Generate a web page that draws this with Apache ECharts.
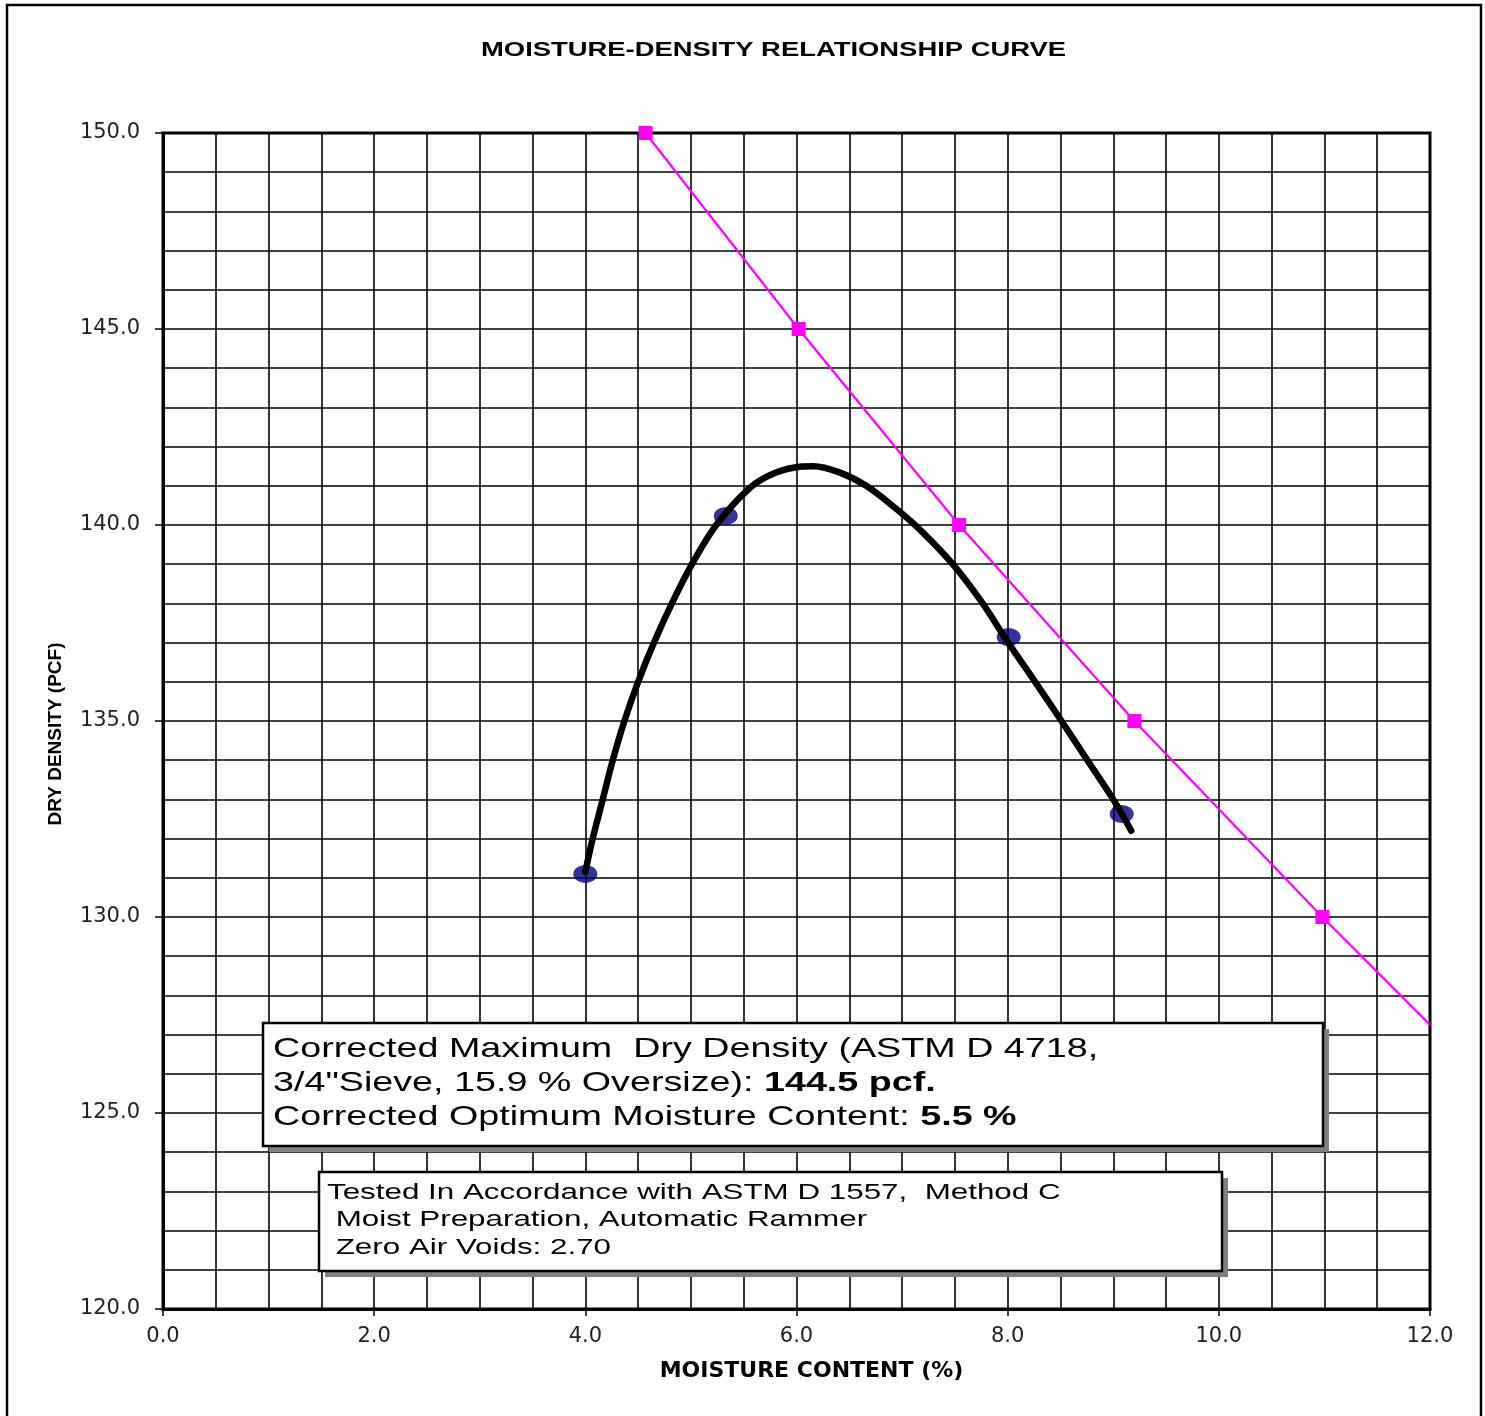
<!DOCTYPE html>
<html>
<head>
<meta charset="utf-8">
<script src="https://cdn.jsdelivr.net/npm/echarts@6/dist/echarts.min.js"></script>
<style>
html,body{margin:0;padding:0;background:#fff;}
#chart{width:1485px;height:1416px;}
</style>
</head>
<body>
<div id="chart"></div>
<script>
// ---- data ----
var xTicks = [0, 2, 4, 6, 8, 10, 12];
var yTicks = [120, 125, 130, 135, 140, 145, 150];

// zero air voids line (Gs = 2.70)
var zavMoisture = [4.57, 6.02, 7.54, 9.20, 10.98, 12.0];
var zavDensity  = [150.0, 145.0, 140.0, 135.0, 130.0, 127.25];

// measured test points
var testMoisture = [4.00, 5.33, 8.01, 9.08];
var testDensity  = [131.1, 140.23, 137.14, 132.63];

// fitted compaction curve
var curveMoisture = [4.00, 4.07, 4.165, 4.26, 4.37, 4.50, 4.65, 4.82, 5.01, 5.24, 5.56, 5.80, 6.05, 6.16, 6.40, 6.66, 6.95, 7.20, 7.48, 7.75, 8.005, 8.26, 8.51, 8.755, 9.00, 9.17];
var curveDensity  = [131.15, 132.0, 133.0, 134.0, 135.0, 136.0, 137.0, 138.0, 139.0, 140.0, 140.95, 141.33, 141.49, 141.5, 141.35, 141.0, 140.4, 139.8, 139.0, 138.05, 137.0, 136.0, 135.0, 134.0, 133.0, 132.2];

var titleText = 'MOISTURE-DENSITY RELATIONSHIP CURVE';
var xName = 'MOISTURE CONTENT (%)';
var yName = 'DRY DENSITY (PCF)';
var box1Lines = [
  'Corrected Maximum  Dry Density (ASTM D 4718,',
  '3/4"Sieve, 15.9 % Oversize): {b|144.5 pcf.}',
  'Corrected Optimum Moisture Content: {b|5.5 %}'
];
var box2Lines = [
  'Tested In Accordance with ASTM D 1557,  Method C',
  ' Moist Preparation, Automatic Rammer',
  ' Zero Air Voids: 2.70'
];

function zip(a, b) { return a.map(function (v, i) { return [v, b[i]]; }); }

var chart = echarts.init(document.getElementById('chart'));

function box(x, y, w, h, textX, textY, lines, fontSize, lineHeight, scaleX) {
  return {
    type: 'group',
    children: [
      { type: 'rect', shape: { x: x + 6, y: y + 6, width: w, height: h }, style: { fill: '#808080' }, z: 10 },
      { type: 'rect', shape: { x: x, y: y, width: w, height: h }, style: { fill: '#fff', stroke: '#000', lineWidth: 2.5 }, z: 11 },
      {
        type: 'text', x: textX, y: textY, scaleX: scaleX, z: 12,
        style: {
          text: lines.join('\n'),
          font: fontSize + 'px "Liberation Sans", Arial, sans-serif',
          fill: '#000',
          lineHeight: lineHeight,
          textVerticalAlign: 'top',
          rich: {
            b: { fontWeight: 'bold', fontSize: fontSize, fontFamily: '"Liberation Sans", Arial, sans-serif', lineHeight: lineHeight, fill: '#000' }
          }
        }
      }
    ]
  };
}

var option = {
  backgroundColor: '#fff',
  animation: false,
  grid: { left: 163, right: 55, top: 133, bottom: 107, show: true, borderColor: '#000', borderWidth: 3, backgroundColor: 'transparent' },
  xAxis: {
    type: 'value', min: xTicks[0], max: xTicks[xTicks.length - 1], interval: 2,
    name: xName, nameLocation: 'middle', nameGap: 51,
    nameTextStyle: { fontFamily: 'DejaVu Sans', fontWeight: 'bold', fontSize: 22, color: '#000', padding: [0, 0, 0, 30] },
    axisLine: { show: true, lineStyle: { color: '#000', width: 3 } },
    axisTick: { show: true, length: 7, lineStyle: { color: '#000', width: 1.5 } },
    axisLabel: { margin: 17, fontFamily: 'DejaVu Sans', fontSize: 21, color: '#222', formatter: function (v) { return v.toFixed(1); } },
    splitLine: { show: true, lineStyle: { color: '#000', width: 1.6 } },
    minorTick: { show: false, splitNumber: 4 },
    minorSplitLine: { show: true, lineStyle: { color: '#000', width: 1.6 } }
  },
  yAxis: {
    type: 'value', min: yTicks[0], max: yTicks[yTicks.length - 1], interval: 5,
    name: yName, nameLocation: 'middle', nameGap: 98,
    nameTextStyle: { fontFamily: '"Liberation Sans", Arial', fontWeight: 'bold', fontSize: 19, color: '#000', padding: [0, 26, 0, 0] },
    axisLine: { show: true, lineStyle: { color: '#000', width: 3 } },
    axisTick: { show: true, length: 8, lineStyle: { color: '#000', width: 1.5 } },
    axisLabel: { margin: 23, fontFamily: 'DejaVu Sans', fontSize: 21, color: '#222', formatter: function (v) { return v.toFixed(1); } },
    splitLine: { show: true, lineStyle: { color: '#000', width: 1.6 } },
    minorTick: { show: false, splitNumber: 5 },
    minorSplitLine: { show: true, lineStyle: { color: '#000', width: 1.6 } }
  },
  series: [
    {
      name: 'Zero Air Voids', type: 'line',
      data: zip(zavMoisture, zavDensity).map(function (p, i) {
        return i === zavMoisture.length - 1 ? { value: p, symbol: 'none' } : { value: p };
      }),
      symbol: 'rect', symbolSize: 14,
      itemStyle: { color: '#FF00FF' },
      lineStyle: { color: '#FF00FF', width: 2.2 },
      clip: true, z: 3
    },
    {
      name: 'Test Points', type: 'scatter',
      data: zip(testMoisture, testDensity),
      symbol: 'circle', symbolSize: [24, 18],
      itemStyle: { color: '#000080' },
      z: 4
    },
    {
      name: 'Curve', type: 'line',
      data: zip(curveMoisture, curveDensity),
      smooth: 0.35, showSymbol: false, symbol: 'none',
      lineStyle: { color: '#000', width: 6.5, cap: 'round', join: 'round' },
      z: 5
    }
  ],
  graphic: [
    { type: 'rect', shape: { x: 7, y: 5, width: 1474, height: 1430 }, style: { fill: 'none', stroke: '#000', lineWidth: 2.5 }, z: 1, silent: true },
    {
      type: 'text', x: 481, y: 50, scaleX: 1.37, z: 12,
      style: { text: titleText, font: 'bold 20px "Liberation Sans", Arial, sans-serif', fill: '#000', textVerticalAlign: 'middle' }
    },
    box(263, 1023, 1060, 123, 273, 1032, box1Lines, 28, 34, 1.346),
    box(319, 1172, 903, 99, 327, 1179, box2Lines, 22, 27.5, 1.425)
  ]
};
chart.setOption(option);
</script>
</body>
</html>
